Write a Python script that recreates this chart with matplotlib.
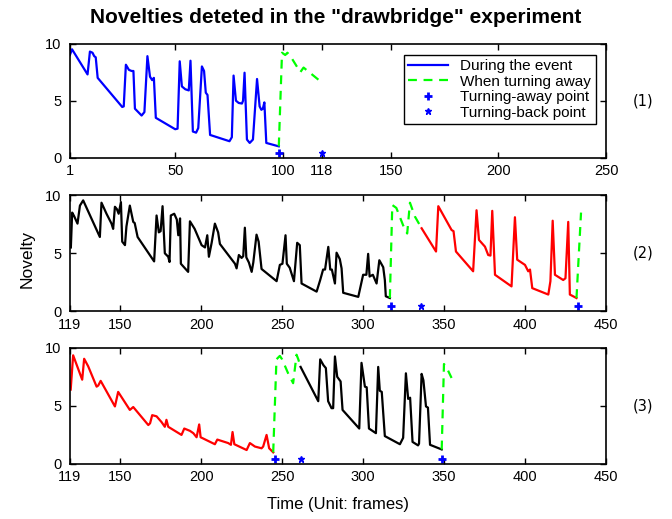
import numpy as np
import matplotlib
matplotlib.use('Agg')
import matplotlib.pyplot as plt

plt.rcParams['font.family'] = ['Liberation Sans', 'DejaVu Sans']

# ---- panel (1): frames 1..250
p1_event_x = [1, 2, 9.2, 10.3, 11.5, 12.3, 13, 13.9, 25.3, 26,
              27, 28.4, 29.7, 30.5, 31.2, 34.3, 35.6, 37, 38.2, 39.2,
              40, 40.9, 49.9, 51, 52, 53, 54.6, 56.2, 57, 58.1,
              59.6, 60.6, 62.3, 63.3, 64.1, 64.9, 66.1, 75.1, 76.2, 77,
              78.1, 79.4, 80.9, 81.4, 82.1, 83.2, 84.5, 86, 87.9, 89.1,
              89.9, 90.6, 91.3, 92.2, 98]
p1_event_y = [9.0, 9.5, 7.3, 9.3, 9.2, 8.9, 8.8, 7.0, 4.45, 4.5,
              8.15, 7.7, 7.6, 7.6, 4.3, 3.7, 4.0, 8.9, 7.1, 6.8,
              7.0, 3.5, 2.5, 2.55, 8.45, 6.25, 6.0, 5.9, 8.5, 2.3,
              2.2, 2.6, 8.0, 7.6, 5.7, 5.5, 2.0, 1.45, 1.8, 7.2,
              5.0, 4.8, 4.75, 5.0, 7.45, 1.6, 1.3, 1.6, 6.9, 4.5,
              4.2, 4.3, 4.85, 1.3, 1.0]
p1_away_x = [98, 99.5, 101, 102, 103.4, 108, 109.5, 117.3]
p1_away_y = [1.0, 9.2, 9.0, 9.2, 8.9, 7.5, 7.9, 6.7]
p1_turn_away = [98]
p1_turn_back = [118]

# ---- panel (2): frames 119..450
p2_a_x = [119.6, 120.4, 121.6, 123.7, 125.2, 127.2, 137.5, 138.5, 141.6, 144.7,
          145.7, 146.8, 148, 149.1, 150.5, 151.3, 153, 153.9, 156, 158.1,
          159, 160.8, 171, 172.5, 173.9, 175, 176.2, 177.6, 179.7, 180.5,
          181.3, 183.4, 185, 185.9, 187, 187.5, 192, 193.1, 196, 200.3,
          202.4, 203.8, 204.8, 206.5, 208.5, 210.5, 211.6, 220.9, 221.9, 223.3,
          225, 226, 227, 227.9, 229.5, 231.2, 232.2, 234.2, 235.5, 237.3,
          246.6, 248.6, 250.2, 252.1, 252.9, 254.7, 257.3, 259.3, 260.9, 262,
          271.3, 273.5, 275.3, 276.5, 278.5, 279.7, 280.7, 282.6, 283.6, 285.6,
          286.7, 287.7, 297, 300, 302, 303.1, 304, 306, 308.3, 310,
          312.4, 313.4, 314, 316.5]
p2_a_y = [5.5, 8.5, 8.2, 7.55, 9.1, 9.55, 6.4, 9.35, 8.4, 7.55,
          7.1, 9.0, 8.8, 8.4, 9.4, 6.0, 5.7, 7.3, 9.1, 7.7,
          7.6, 6.4, 4.3, 8.25, 6.8, 6.9, 9.05, 5.0, 4.7, 4.25,
          8.25, 8.4, 7.9, 6.55, 8.0, 4.1, 3.4, 7.75, 7.1, 5.7,
          5.5, 6.55, 4.7, 5.9, 7.55, 6.8, 5.8, 4.1, 3.7, 4.85,
          4.6, 4.75, 7.2, 4.65, 4.2, 3.4, 4.2, 6.6, 6.0, 3.65,
          2.6, 4.0, 4.1, 6.55, 4.1, 3.75, 2.6, 5.9, 5.7, 2.4,
          1.7, 2.7, 3.6, 3.6, 5.55, 3.6, 3.6, 2.4, 5.05, 4.5,
          3.7, 1.6, 1.25, 3.15, 3.15, 4.95, 3.0, 3.15, 2.4, 4.4,
          3.8, 2.7, 1.3, 1.15]
p2_away1_x = [316.5, 318, 320.5, 324.7, 327.2, 328.9, 332, 336.1]
p2_away1_y = [1.15, 9.15, 8.9, 7.4, 6.7, 9.35, 8.15, 7.15]
p2_b_x = [336.1, 345, 346.4, 349, 354.6, 355.8, 357.3, 367.9, 370, 371.5,
          375.2, 377.2, 378.6, 379.7, 381.4, 391.6, 393.7, 395.1, 399.9, 401.9,
          403, 404.4, 414.3, 415.6, 417, 418.4, 423.5, 424.9, 426.6, 427.6,
          431.7]
p2_b_y = [7.15, 5.15, 9.05, 8.4, 7.0, 6.9, 5.15, 3.45, 8.7, 6.15,
          5.57, 4.85, 4.8, 8.65, 3.15, 2.15, 8.1, 4.45, 4.0, 3.45,
          3.6, 2.0, 1.45, 2.6, 7.8, 3.15, 2.7, 2.85, 7.7, 1.45,
          1.15]
p2_away2_x = [431.7, 434.5]
p2_away2_y = [1.15, 8.5]
p2_turn_away = [317, 432.8]
p2_turn_back = [336]

# ---- panel (3): frames 119..450
p3_a_x = [119.5, 121, 126.6, 127.8, 130.3, 135.5, 136.5, 138, 146.8, 148.8,
          156, 158.1, 167.4, 168.5, 169.8, 172.5, 175.6, 177.6, 178.6, 179.7,
          187.9, 189.6, 193.1, 195.2, 197.2, 198.8, 199.7, 208.5, 210, 216.7,
          218.4, 219.4, 220.5, 228.1, 230.1, 233.2, 237.3, 238.3, 240.4, 242,
          244.5]
p3_a_y = [6.4, 9.35, 7.25, 9.05, 8.4, 6.65, 6.75, 7.15, 4.95, 6.2,
          4.65, 4.9, 3.35, 3.5, 4.2, 4.1, 3.6, 3.2, 3.8, 3.2,
          2.5, 3.05, 2.85, 2.65, 2.3, 3.4, 2.3, 1.7, 2.1, 1.8,
          1.65, 2.75, 1.7, 1.2, 1.8, 1.5, 1.35, 1.5, 2.5, 1.35,
          1.0]
p3_away1_x = [244.5, 246.5, 248.6, 250, 253.7, 256.8, 258.9, 260, 261.4]
p3_away1_y = [1.0, 9.0, 9.3, 9.0, 7.8, 6.95, 9.4, 9.0, 8.35]
p3_b_x = [261.4, 272.3, 273.5, 275.5, 277, 278.4, 280.5, 281.5, 282.6, 284,
          286.1, 287.3, 297.6, 299, 301.1, 302.2, 303.6, 307.9, 309.3, 310.3,
          311.5, 313.4, 322.7, 324.7, 326.4, 327.8, 329, 330.5, 333.9, 334.5,
          336.1, 337.2, 338.8, 340, 341.3, 348.5]
p3_b_y = [8.35, 5.4, 9.0, 8.5, 8.25, 5.4, 4.8, 4.8, 9.25, 7.5,
          7.1, 4.65, 3.05, 8.7, 6.65, 6.6, 3.05, 2.65, 8.35, 6.3,
          6.2, 2.4, 1.7, 2.25, 7.8, 5.6, 5.7, 1.9, 1.6, 1.75,
          7.75, 7.2, 4.95, 4.85, 1.65, 1.25]
p3_away2_x = [348.5, 349.9, 351.5, 354.6]
p3_away2_y = [1.25, 8.6, 8.3, 7.4]
p3_turn_away = [245.5, 348.5]
p3_turn_back = [261.4]

marker_y = 0.45
p1_ticks = [1, 50, 100, 118, 150, 200, 250]
p23_ticks = [119, 150, 200, 250, 300, 350, 400, 450]
panel_names = ['(1)', '(2)', '(3)']

GREEN = (0, 1, 0)
LW = 1.6

fig = plt.figure(figsize=(6.72, 5.19), dpi=100)
ax1 = fig.add_axes([0.104, 0.696, 0.798, 0.220])
ax2 = fig.add_axes([0.104, 0.400, 0.798, 0.224])
ax3 = fig.add_axes([0.104, 0.106, 0.798, 0.224])


def dashed(ax, x, y, **kw):
    ax.plot(x, y, '--', color=GREEN, lw=LW, dashes=(4, 3), **kw)


def marks(ax, away, back):
    ax.plot(away, [marker_y] * len(away), '+', color='b', ms=6, mew=2,
            linestyle='none')
    ax.plot(back, [marker_y] * len(back), '*', color='b', ms=5,
            linestyle='none')


ax1.plot(p1_event_x, p1_event_y, color='b', lw=LW, label='During the event')
dashed(ax1, p1_away_x, p1_away_y, label='When turning away')
ax1.plot(p1_turn_away, [marker_y], '+', color='b', ms=6, mew=2,
         linestyle='none', label='Turning-away point')
ax1.plot(p1_turn_back, [marker_y], '*', color='b', ms=5,
         linestyle='none', label='Turning-back point')
ax1.set_xlim(1, 250)
ax1.set_xticks(p1_ticks)
leg = ax1.legend(loc='upper right', fontsize=11, fancybox=False,
                 edgecolor='k', framealpha=1, borderpad=0.3,
                 labelspacing=0.1, handlelength=2.6,
                 bbox_to_anchor=(0.995, 0.97))
leg.get_frame().set_linewidth(1.0)

ax2.plot(p2_a_x, p2_a_y, color='k', lw=LW)
dashed(ax2, p2_away1_x, p2_away1_y)
ax2.plot(p2_b_x, p2_b_y, color='r', lw=LW)
dashed(ax2, p2_away2_x, p2_away2_y)
marks(ax2, p2_turn_away, p2_turn_back)

ax3.plot(p3_a_x, p3_a_y, color='r', lw=LW)
dashed(ax3, p3_away1_x, p3_away1_y)
ax3.plot(p3_b_x, p3_b_y, color='k', lw=LW)
dashed(ax3, p3_away2_x, p3_away2_y)
marks(ax3, p3_turn_away, p3_turn_back)

for ax in (ax2, ax3):
    ax.set_xlim(119, 450)
    ax.set_xticks(p23_ticks)

for ax, name in zip((ax1, ax2, ax3), panel_names):
    ax.set_ylim(0, 10)
    ax.set_yticks([0, 5, 10])
    ax.tick_params(direction='in', top=True, right=True, labelsize=10.5,
                   length=4, width=1)
    ax.tick_params(axis='x', pad=4.5)
    ax.tick_params(axis='y', pad=6)
    for s in ax.spines.values():
        s.set_linewidth(1.2)
    ax.text(1.05, 0.5, name, transform=ax.transAxes, fontsize=10.5,
            ha='left', va='center', family='DejaVu Sans')

fig.text(0.499, 0.966, 'Novelties deteted in the "drawbridge" experiment',
         ha='center', va='center', fontsize=15, fontweight='bold')
fig.text(0.040, 0.50, 'Novelty', rotation=90, ha='center', va='center',
         fontsize=12.5)
fig.text(0.503, 0.028, 'Time (Unit: frames)', ha='center', va='center',
         fontsize=12)

fig.savefig('out.png', dpi=100)
